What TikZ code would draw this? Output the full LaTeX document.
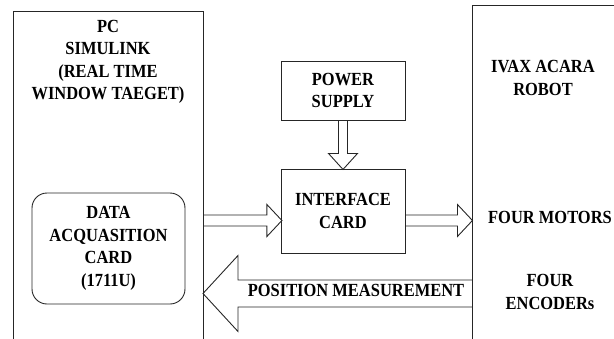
\documentclass[tikz,border=0pt]{standalone}
\usepackage{fontspec}
\setmainfont{Liberation Serif}[FakeStretch=0.89]
\usetikzlibrary{positioning}

\tikzset{
  pics/fatarrow/.style n args={4}{code={
    \draw[line] (0,#2) -- ({#1-#4},#2) -- ({#1-#4},#3) -- (#1,0)
      -- ({#1-#4},-#3) -- ({#1-#4},-#2) -- (0,-#2);
  }}
}

\begin{document}
\begin{tikzpicture}[x=1pt, y=1pt,
    line/.style={draw=black!85, line width=0.9pt},
    box/.style={line, rectangle, inner sep=0pt},
    label/.style={font=\fontsize{18.5}{22.5}\selectfont\bfseries, align=center, inner sep=0pt}
  ]
    \useasboundingbox (0,0) rectangle (614,-338);
    \clip (0,0) rectangle (614,-338);

    % PC side
    \node[box, anchor=north west, minimum width=190, minimum height=360] (pc) at (13,-11) {};
    \node[label] (pctext) at (108,-62) {PC\\SIMULINK\\(REAL TIME\\WINDOW TAEGET)};
    \node[box, label, rounded corners=15, minimum width=153, minimum height=111] (daq) at (108.5,-248.5)
      {DATA\\ACQUASITION\\CARD\\(1711U)};

    % middle
    \node[box, label, minimum width=124, minimum height=59] (psu) at (343,-90.5) {POWER\\SUPPLY};
    \node[box, label, minimum width=124, minimum height=84] (iface) at (343,-211) {INTERFACE\\CARD};

    % robot side
    \node[box, anchor=north west, minimum width=180, minimum height=370] (robot) at (472,-5) {};
    \node[label] (robottext) at (543,-78) {IVAX ACARA\\ROBOT};
    \node[label] (motors) at (550,-217) {FOUR MOTORS};
    \node[label] (encoders) at (550,-292) {FOUR\\ENCODERs};

    \coordinate (sigin) at (pc.east |- 0,-220.5);
    \coordinate (sigout) at (iface.east |- 0,-220.5);
    \coordinate (feedback) at (robot.west |- 0,-293.5);

    % arrows
    \pic[rotate=-90] at (psu.south) {fatarrow={49}{4.5}{14.5}{16}};
    \pic at (sigin) {fatarrow={78}{5.5}{16}{15}};
    \pic at (sigout) {fatarrow={67}{5.5}{16}{15}};
    \pic[rotate=180] at (feedback) {fatarrow={269}{13.5}{38}{35}};
    \node[label] (pos) at (356,-290.5) {POSITION MEASUREMENT};
  \end{tikzpicture}
\end{document}
